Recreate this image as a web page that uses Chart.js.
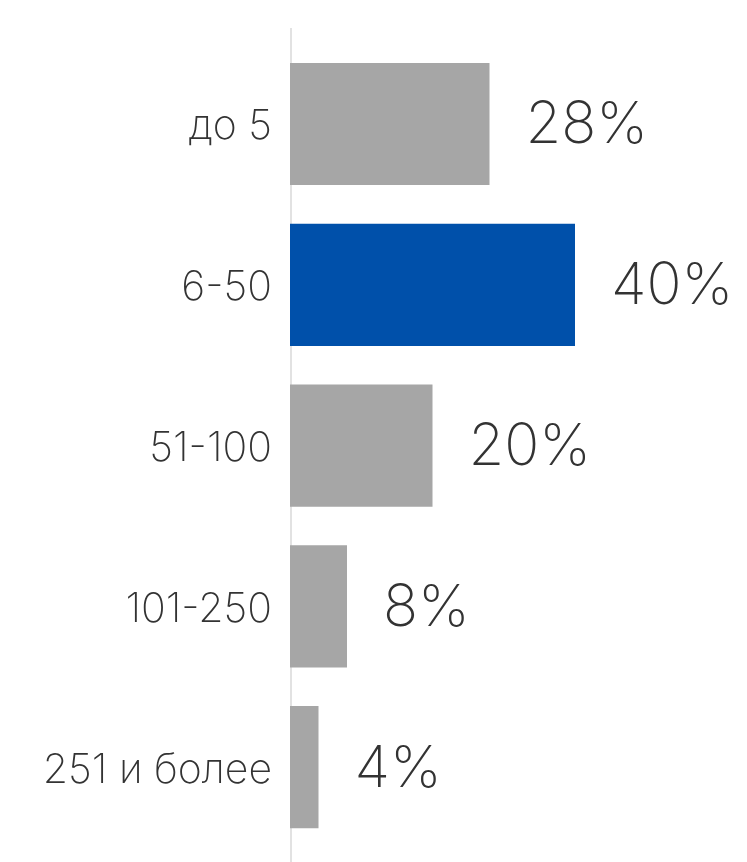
<!DOCTYPE html>
<html><head><meta charset="utf-8">
<script src="https://cdn.jsdelivr.net/npm/chart.js@4"></script>
<style>html,body{margin:0;padding:0;background:#fff}#wrap{width:747px;height:862px}</style>
</head><body><div id="wrap"><canvas id="c"></canvas></div>
<script>
const categories = ["до 5", "6-50", "51-100", "101-250", "251 и более"];
const values = [28, 40, 20, 8, 4];
const barColors = ["#a6a6a6", "#0050aa", "#a6a6a6", "#a6a6a6", "#a6a6a6"];
const valueLabels = ["28%", "40%", "20%", "8%", "4%"];

const axisLine = {
  id: 'axisLine',
  beforeDatasetsDraw(chart) {
    const ctx = chart.ctx, x = chart.scales.x.getPixelForValue(0);
    ctx.save();
    ctx.strokeStyle = '#e2e2e2';
    ctx.lineWidth = 2;
    ctx.beginPath();
    ctx.moveTo(x + 1, 28);
    ctx.lineTo(x + 1, 862);
    ctx.stroke();
    ctx.restore();
  }
};
const valueLabelPlugin = {
  id: 'valueLabels',
  afterDatasetsDraw(chart) {
    const ctx = chart.ctx;
    const meta = chart.getDatasetMeta(0);
    ctx.save();
    ctx.font = '200 58px Inter';
    ctx.fillStyle = '#333333';
    ctx.textAlign = 'left';
    ctx.textBaseline = 'middle';
    meta.data.forEach((bar, i) => {
      ctx.fillText(valueLabels[i], bar.x + 36, bar.y + 2);
    });
    ctx.restore();
  }
};

new Chart(document.getElementById('c'), {
  type: 'bar',
  data: { labels: categories, datasets: [{ data: values, backgroundColor: barColors, barPercentage: 0.76, categoryPercentage: 1 }] },
  options: {
    indexAxis: 'y',
    responsive: true,
    maintainAspectRatio: false,
    animation: false,
    layout: { padding: { top: 43.6, bottom: 14.4, left: 0, right: 1 } },
    plugins: { legend: { display: false }, tooltip: { enabled: false } },
    scales: {
      x: { display: false, min: 0, max: 64 },
      y: {
        afterFit(s) { s.width = 290; s.paddingTop = 0; s.paddingBottom = 0; },
        grid: { display: false },
        border: { display: false },
        ticks: { color: '#333333', padding: 10, labelOffset: 3, font: { family: 'Inter', size: 41, weight: 200, lineHeight: 0.6 } }
      }
    }
  },
  plugins: [axisLine, valueLabelPlugin]
});
</script></body></html>
